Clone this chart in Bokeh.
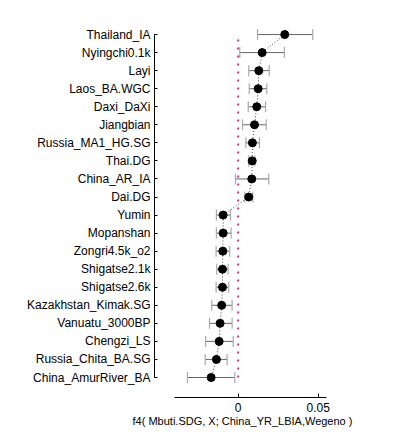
from bokeh.plotting import figure
from bokeh.models import ColumnDataSource, Range1d, FixedTicker, Whisker, TeeHead
from bokeh.embed import file_html
from bokeh.resources import INLINE

# Data (top to bottom as in the chart)
populations = [
    "Thailand_IA", "Nyingchi0.1k", "Layi", "Laos_BA.WGC", "Daxi_DaXi",
    "Jiangbian", "Russia_MA1_HG.SG", "Thai.DG", "China_AR_IA", "Dai.DG",
    "Yumin", "Mopanshan", "Zongri4.5k_o2", "Shigatse2.1k", "Shigatse2.6k",
    "Kazakhstan_Kimak.SG", "Vanuatu_3000BP", "Chengzi_LS", "Russia_Chita_BA.SG",
    "China_AmurRiver_BA",
]
f4_est = [
    0.0291, 0.0150, 0.0129, 0.0125, 0.0116,
    0.0102, 0.0089, 0.0088, 0.0085, 0.0066,
    -0.0094, -0.0094, -0.0096, -0.0098, -0.0098,
    -0.0103, -0.0113, -0.0119, -0.0136, -0.0169,
]
f4_lo = [
    0.0121, 0.0010, 0.0066, 0.0069, 0.0063,
    0.0027, 0.0048, 0.0066, -0.0017, 0.0041,
    -0.0136, -0.0136, -0.0138, -0.0134, -0.0138,
    -0.0165, -0.0179, -0.0203, -0.0206, -0.0317,
]
f4_hi = [
    0.0466, 0.0289, 0.0194, 0.0179, 0.0171,
    0.0175, 0.0133, 0.0104, 0.0191, 0.0091,
    -0.0048, -0.0044, -0.0053, -0.0063, -0.0059,
    -0.0038, -0.0038, -0.0031, -0.0069, -0.0021,
]
x_ticks = [0, 0.05]
x_tick_labels = ["0", "0.05"]
x_label = "f4( Mbuti.SDG, X; China_YR_LBIA,Wegeno )"

n = len(populations)
ypos = [n - i for i in range(n)]

src = ColumnDataSource(dict(name=populations, x=f4_est, lo=f4_lo, hi=f4_hi, y=ypos))

FONT = "Liberation Sans"

p = figure(
    width=397, height=448,
    output_backend="svg", toolbar_location=None,
    x_range=Range1d(-0.0523, 0.0577),
    y_range=Range1d(-0.108, 21.0),
    min_border_left=154, min_border_right=67,
    min_border_top=16, min_border_bottom=51,
)
p.outline_line_color = None
p.xgrid.visible = False
p.ygrid.visible = False
p.background_fill_color = "white"
p.border_fill_color = "white"

# zero reference line
p.segment(x0=[0], y0=[1], x1=[0], y1=[n], line_color="#c8329a",
          line_width=2, line_dash="2 6")

# connecting dotted line
p.line("x", "y", source=src, line_color="#444444", line_width=1, line_dash="1 2")

# error bars
w = Whisker(source=src, base="y", lower="lo", upper="hi", dimension="width",
            line_color="#666666", line_width=1,
            upper_head=TeeHead(size=11, line_color="#aaaaaa", line_width=1.2),
            lower_head=TeeHead(size=11, line_color="#aaaaaa", line_width=1.2))
p.add_layout(w)

p.scatter("x", "y", source=src, size=8, fill_color="black", line_color="black")

# axes
xa = p.xaxis[0]
xa.ticker = FixedTicker(ticks=x_ticks)
xa.major_label_overrides = {t: l for t, l in zip(x_ticks, x_tick_labels)}
xa.minor_tick_line_color = None
xa.major_tick_in = 4
xa.major_tick_out = 0
xa.bounds = (-0.04, 0.055)
xa.axis_label = x_label
xa.axis_label_text_font = FONT
xa.axis_label_text_font_size = "11px"
xa.axis_label_text_font_style = "normal"
xa.axis_label_text_color = "black"
xa.axis_label_standoff = 0
xa.major_label_text_font = FONT
xa.major_label_text_font_size = "12px"
xa.major_label_text_color = "black"
xa.major_label_standoff = 5
xa.axis_line_color = "black"
xa.major_tick_line_color = "black"

ya = p.yaxis[0]
ya.ticker = FixedTicker(ticks=ypos)
ya.major_label_overrides = {y: nm for y, nm in zip(ypos, populations)}
ya.minor_tick_line_color = None
ya.major_tick_in = 3
ya.major_tick_out = 0
ya.bounds = (1, n)
ya.major_label_text_font = FONT
ya.major_label_text_font_size = "12px"
ya.major_label_text_color = "black"
ya.major_label_standoff = 4
ya.axis_line_color = "black"
ya.major_tick_line_color = "black"

open("out.html", "w").write(file_html(p, INLINE))
